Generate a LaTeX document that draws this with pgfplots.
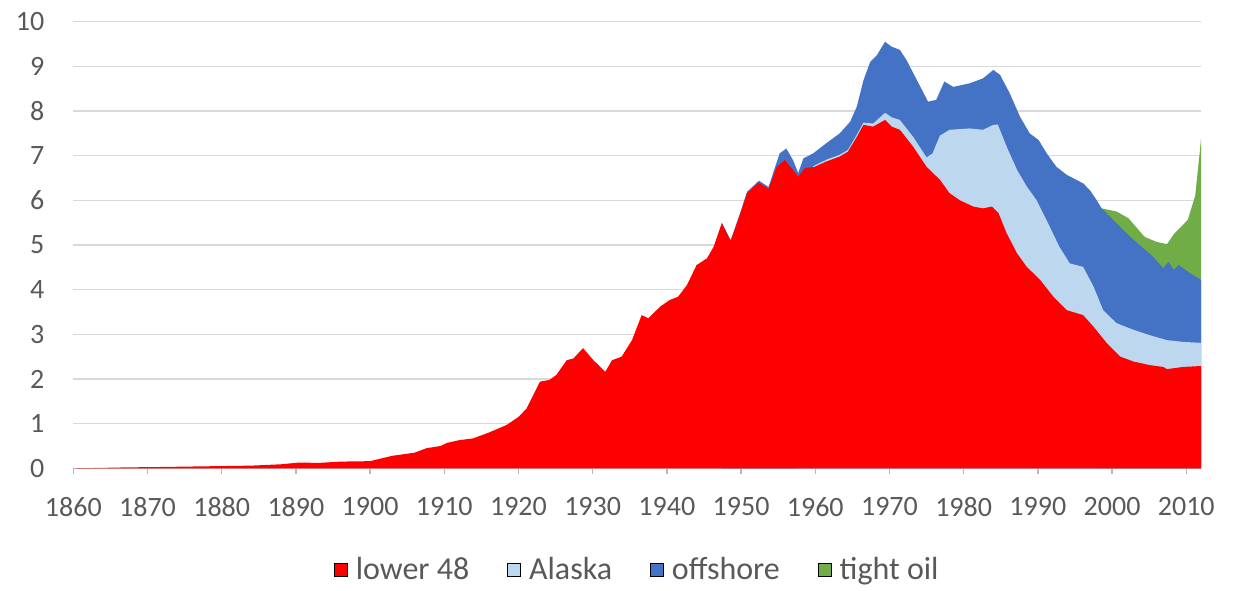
\documentclass[border=0pt]{standalone}
\usepackage{fontspec}
\setmainfont{Carlito}
\usepackage{pgfplots}
\pgfplotsset{compat=1.18}
\definecolor{l48}{HTML}{FF0000}
\definecolor{alaska}{HTML}{BDD7EE}
\definecolor{offshore}{HTML}{4472C4}
\definecolor{tight}{HTML}{70AD47}
\definecolor{gridc}{HTML}{D9D9D9}
\definecolor{txt}{HTML}{595959}
\begin{document}
\begin{tikzpicture}
\useasboundingbox (0,0) rectangle (616.5pt,295pt);
\begin{axis}[
  at={(36.65pt,60.85pt)}, anchor=south west,
  scale only axis, width=563.9pt, height=223.3pt,
  xmin=1860, xmax=2012, ymin=0, ymax=10,
  axis lines*=left,
  y axis line style={draw=none},
  x axis line style={draw=gridc!85!black, line width=0.7pt},
  xtick={1860,1870,...,2010}, ytick={0,1,...,10},
  ymajorgrids, grid style={gridc, line width=0.7pt},
  ytick style={draw=none},
  xtick style={draw=gridc!85!black, line width=0.7pt},
  tick align=outside, major tick length=3pt,
  /pgf/number format/.cd, 1000 sep={}, assume math mode=true, /pgfplots/.cd,
  tick label style={font=\fontsize{14}{16}\selectfont, text=txt},
  xticklabel style={yshift=-8pt},
  yticklabel style={xshift=-8pt},
  legend style={at={(axis description cs:0.5010,-0.2277)}, anchor=center,
    draw=none, fill=none, legend columns=4, inner sep=0pt,
    font=\fontsize{16}{18}\selectfont, text=txt,
    /tikz/every even column/.append style={column sep=17pt}},
  legend image code/.code={\fill[#1] (0pt,-3.2pt) rectangle (6.5pt,3.2pt); \path (8.5pt,0pt);},
]
\addlegendimage{fill=l48}\addlegendentry{lower 48}
\addlegendimage{fill=alaska}\addlegendentry{Alaska}
\addlegendimage{fill=offshore}\addlegendentry{offshore}
\addlegendimage{fill=tight}\addlegendentry{tight oil}

% tight oil (cumulative top)
\addplot[forget plot, fill=tight, draw=none] coordinates {
(1998.6,5.82) (2000.6,5.75) (2002.2,5.60) (2004.4,5.18) (2006.0,5.07) (2007.4,5.02)
(2008.4,5.26) (2010.2,5.56) (2011.2,6.10) (2011.8,7.05) (2012.0,7.40)
} \closedcycle;

% offshore (cumulative top)
\addplot[forget plot, fill=offshore, draw=none] coordinates {
(1947.4,5.50) (1948.6,5.11) (1949.9,5.73) (1950.8,6.19) (1952.4,6.44) (1953.7,6.30)
(1954.8,6.85) (1955.2,7.05) (1956.1,7.16) (1957.0,6.90) (1957.7,6.61) (1958.4,6.94)
(1959.7,7.05) (1961.5,7.28) (1963.3,7.50) (1964.7,7.76) (1965.6,8.10) (1966.5,8.69)
(1967.4,9.10) (1968.3,9.25) (1969.4,9.55) (1970.3,9.44) (1971.4,9.37) (1972.3,9.14)
(1973.7,8.69) (1975.2,8.21) (1976.3,8.25) (1977.4,8.66) (1978.6,8.54) (1980.8,8.62)
(1982.6,8.73) (1984.0,8.92) (1984.9,8.81) (1986.2,8.40) (1987.6,7.87) (1988.9,7.50)
(1990.1,7.35) (1991.2,7.05) (1992.5,6.75) (1993.9,6.57) (1996.1,6.38) (1997.0,6.23)
(1997.9,6.01) (1998.6,5.82) (2000.6,5.49) (2002.4,5.19) (2004.2,4.93) (2005.5,4.74)
(2006.9,4.48) (2007.6,4.62) (2008.3,4.45) (2009.0,4.55) (2010.5,4.37) (2012.0,4.22)
} \closedcycle;

% Alaska (cumulative top)
\addplot[forget plot, fill=alaska, draw=none] coordinates {
(1957.7,6.53) (1959.9,6.78) (1961.5,6.91) (1963.3,7.02) (1964.4,7.13) (1965.6,7.47)
(1966.5,7.74) (1967.8,7.72) (1969.4,7.96) (1970.3,7.86) (1971.4,7.80) (1973.2,7.42)
(1975.0,6.96) (1975.8,7.05) (1976.8,7.45) (1978.1,7.58) (1980.8,7.61) (1982.6,7.58)
(1984.0,7.69) (1984.6,7.70) (1985.8,7.20) (1987.2,6.68) (1988.5,6.31) (1989.8,6.01)
(1991.6,5.41) (1992.9,4.96) (1994.3,4.59) (1996.1,4.51) (1997.5,4.07) (1998.8,3.54)
(2000.6,3.25) (2002.9,3.10) (2005.1,2.98) (2007.4,2.87) (2009.6,2.83) (2012.0,2.81)
} \closedcycle;

% lower 48
\addplot[forget plot, fill=l48, draw=none] coordinates {
(1860,0.00) (1864,0.01) (1867,0.02) (1872,0.03) (1880,0.05) (1884,0.06) (1888,0.09)
(1890.5,0.13) (1893,0.12) (1896,0.15) (1900,0.16) (1903,0.28) (1906,0.35) (1907.6,0.45)
(1909.5,0.50) (1910.4,0.57) (1912,0.63) (1913.9,0.67) (1916,0.80) (1918.4,0.97)
(1920,1.15) (1921.1,1.34) (1922.9,1.94) (1924.2,1.98) (1925.1,2.09) (1926.5,2.42)
(1927.4,2.46) (1928.7,2.69) (1930.1,2.42) (1931.7,2.16) (1932.6,2.42) (1933.9,2.50)
(1935.3,2.87) (1936.6,3.43) (1937.5,3.36) (1939.1,3.62) (1940.4,3.77) (1941.5,3.84)
(1942.7,4.10) (1944.0,4.55) (1945.4,4.70) (1946.3,4.96) (1947.4,5.49) (1948.6,5.09)
(1949.9,5.70) (1950.8,6.16) (1952.4,6.40) (1953.7,6.25) (1954.8,6.75) (1955.9,6.90)
(1956.8,6.72) (1957.7,6.53) (1958.6,6.72) (1959.9,6.75) (1961.5,6.87) (1963.3,6.98)
(1964.4,7.09) (1965.6,7.42) (1966.5,7.69) (1967.8,7.65) (1969.4,7.80) (1970.3,7.65)
(1971.4,7.58) (1973.2,7.20) (1975.0,6.75) (1976.8,6.46) (1978.1,6.16) (1979.5,6.00)
(1981.3,5.86) (1982.6,5.82) (1983.8,5.86) (1984.7,5.71) (1985.8,5.26) (1987.2,4.81)
(1988.5,4.51) (1990.3,4.22) (1992.1,3.84) (1993.9,3.54) (1996.1,3.43) (1997.5,3.17)
(1999.3,2.80) (2001.1,2.50) (2002.9,2.39) (2005.1,2.31) (2006.9,2.27) (2007.4,2.22)
(2009.6,2.27) (2012.0,2.29)
} \closedcycle;
\end{axis}
\end{tikzpicture}
\end{document}
